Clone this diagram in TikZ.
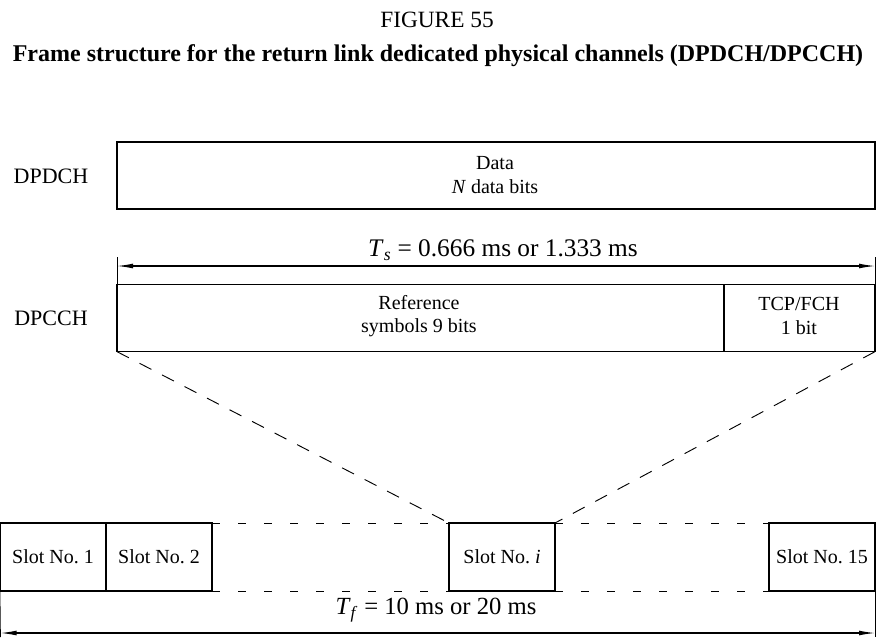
\documentclass[tikz,border=0pt]{standalone}
\usepackage{fontspec}
\setmainfont{Liberation Serif}
\usetikzlibrary{arrows.meta,positioning}
\tikzset{
  chanbox/.style={draw, line width=1.1pt, minimum height=50.5pt, inner sep=0pt, outer sep=0pt},
  slotbox/.style={draw, line width=1.1pt, minimum width=79.5pt, minimum height=51pt, inner sep=0pt, outer sep=0pt},
  zoomline/.style={line width=0.7pt, dash pattern=on 10pt off 9pt},
  gapline/.style={line width=0.7pt, dash pattern=on 6pt off 13.5pt},
  dimline/.style={<->, line width=0.8pt},
  tickline/.style={line width=0.5pt},
}

\begin{document}
\begin{tikzpicture}[x=0.75pt, y=-0.75pt, >={Latex[length=12pt,width=3.6pt]}, every node/.style={font=\fontsize{15}{17.5}\selectfont}]
      \useasboundingbox (0,0) rectangle (876,637);
      % heading
      \node[font=\fontsize{17.5}{20}\selectfont] (fignum) at (437,20) {FIGURE 55};
      \node[font=\fontsize{18}{21}\selectfont\bfseries] (title) at (438,56) {Frame structure for the return link dedicated physical channels (DPDCH/DPCCH)};
      % data channel
      \node[font=\fontsize{16.5}{19}\selectfont] (dpdchlbl) at (51,176) {DPDCH};
      \node[chanbox, minimum width=568.5pt] (dpdch) at (496,175.5) {};
      \node[align=center, font=\fontsize{15}{18}\selectfont] (datatxt) at (495,175) {Data\\\textit{N} data bits};
      % slot length
      \coordinate (tsl) at (117,257);
      \coordinate (tsr) at (875,257);
      \coordinate (tsa) at (117,266);
      \coordinate (tsb) at (875,266);
      \node[font=\fontsize{19}{22}\selectfont] (tslbl) at (503,250) {\textit{T}\textsubscript{\textit{s}} = 0.666 ms or 1.333 ms};
      % control channel
      \node[font=\fontsize{16.5}{19}\selectfont] (dpcchlbl) at (51,318) {DPCCH};
      \node[chanbox, minimum width=455.25pt] (refsym) at (420.5,318) {};
      \node[chanbox, minimum width=113.25pt] (tcpfch) at (799.5,318) {};
      \node[align=center] (reftxt) at (419,316) {Reference\\symbols 9 bits};
      \node[align=center] (tcptxt) at (799,316) {TCP/FCH\\1 bit};
      \draw[tickline] (refsym.north west) -- (tsl);
      \draw[tickline] (tcpfch.north east) -- (tsr);
      \draw[dimline] (tsa) -- (tsb);
      % slots of one frame
      \node[slotbox] (slot1) at (53,557) {Slot No.~1};
      \node[slotbox, right=0pt of slot1] (slot2) {Slot No.~2};
      \node[slotbox] (sloti) at (502,557) {Slot No.~\textit{i}};
      \node[slotbox] (slot15) at (822,557) {Slot No.~15};
      \draw[gapline] (slot2.north east) -- (sloti.north west);
      \draw[gapline] (slot2.south east) -- (sloti.south west);
      \draw[gapline] (sloti.north east) -- (slot15.north west);
      \draw[gapline] (sloti.south east) -- (slot15.south west);
      % zoom onto slot i
      \draw[zoomline] (refsym.south west) -- (sloti.north west);
      \draw[zoomline] (tcpfch.south east) -- (sloti.north east);
      % frame length
      \coordinate (tfl) at (0.5,637);
      \coordinate (tfr) at (875,637);
      \coordinate (tfa) at (0.5,633);
      \coordinate (tfb) at (875,633);
      \draw[tickline] (slot1.south west) -- (tfl);
      \draw[tickline] (slot15.south east) -- (tfr);
      \draw[dimline] (tfa) -- (tfb);
      \node[font=\fontsize{18.5}{21}\selectfont] (tflbl) at (436,610) {\textit{T}\textsubscript{\textit{f}} = 10 ms or 20 ms};
    \end{tikzpicture}
\end{document}
